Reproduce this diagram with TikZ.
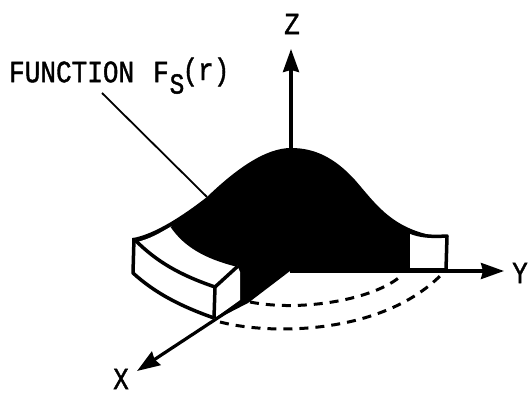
\documentclass[tikz,border=0pt]{standalone}
\usepackage{fontspec}
\setmainfont[FakeBold=1.4]{Liberation Mono}
\usetikzlibrary{arrows.meta,calc,positioning}
\tikzset{
  letra/.style={
    inner sep=0pt,
    transform shape,
    xscale=.84,
    font=\fontsize{31}{31}\selectfont
  },
  eje/.style={
    line width=3.2pt,
    -{Stealth[length=23pt,width=16pt,inset=2pt]}
  },
  borde/.style={
    line width=3.5pt,
    line join=round
  },
  punteada/.style={
    line width=3pt,
    dash pattern=on 9pt off 7pt
  }
}
\begin{document}
\begin{tikzpicture}[x=1pt,y=-1pt]
\useasboundingbox (0,0) rectangle (532,395);
\coordinate (o) at (290,271);
\coordinate (ztip) at (291,49);
\coordinate (ytip) at (504,271);
\coordinate (xtip) at (137,371);
\coordinate (zbase) at (291,148);
\coordinate (xbase) at (248,298);
\coordinate (lider) at (102,93);
\coordinate (dosa) at (220,322);
\coordinate (dosb) at (440,276);
\coordinate (unoa) at (250,302);
\coordinate (unob) at (402,275);
% silueta negra
\fill[black] (133,238) .. controls (150,235) and (175,222) .. (207,197)
  .. controls (235,170) and (265,148) .. (291,148)
  .. controls (315,148) and (335,158) .. (355,180)
  .. controls (375,203) and (390,226) .. (430,235)
  -- (430,271) -- (o) -- (248,303) -- (215,320) -- (215,286) -- cycle;
% bloque izquierdo
\fill[white] (137,242) .. controls (150,239) and (160,233) .. (172,226)
  .. controls (185,245) and (205,257) .. (237,265)
  -- (240,272) -- (240,300) -- (215,318) -- (212,318)
  .. controls (180,306) and (155,293) .. (133,273) -- cycle;
\draw[borde] (172,226) .. controls (185,245) and (205,257) .. (237,265);
\draw[borde] (135,240) .. controls (157,262) and (180,275) .. (215,287) -- (238,266);
\draw[borde] (134,238) -- (133,273) .. controls (155,293) and (180,306) .. (214,318);
\draw[borde] (215,287) -- (214,318);
% bloque derecho
\fill[white] (410,233) .. controls (420,236) and (430,236) .. (445,236) -- (445,268) -- (410,268) -- cycle;
\draw[borde] (410,232) .. controls (420,236) and (430,237) .. (447,236) -- (446,270);
\draw[borde] (410,270) -- (446,270);
% ejes
\draw[eje] (zbase) -- (ztip);
\draw[eje] (o) -- (ytip);
\draw[eje] (xbase) -- (xtip);
% radios punteados
\draw[punteada] (dosa) .. controls (270,335) and (380,335) .. (dosb);
\draw[punteada] (unoa) .. controls (300,312) and (375,300) .. (unob);
\draw[line width=1.8pt] (lider) -- (207,197);
% textos
\node[letra,anchor=west] (funcion) at (9,72) {FUNCTION};
\node[letra] (efe) at (161,72) {F};
\node[letra,font=\fontsize{29}{29}\selectfont] (sub) at (177,84) {S};
\node[letra] (arg) at (206,72) {(r)};
\node[letra] (z) at (292,24) {Z};
\node[letra] (y) at (520,273) {Y};
\node[letra] (x) at (121,379) {X};
\end{tikzpicture}
\end{document}
